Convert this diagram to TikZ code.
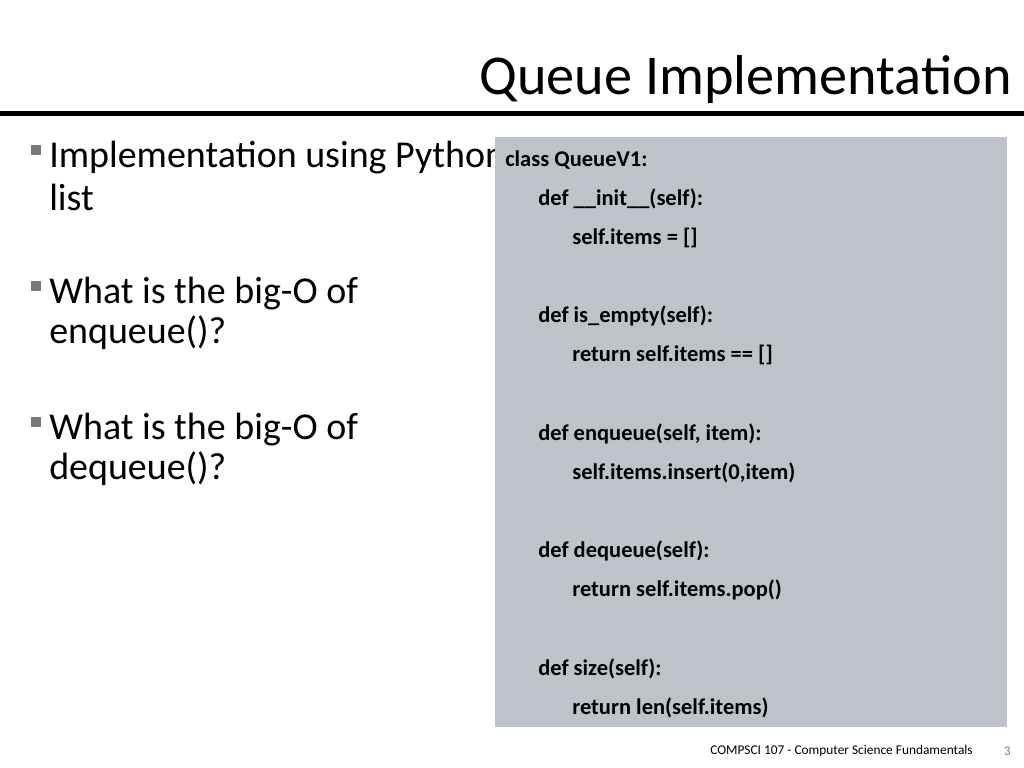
\documentclass[tikz,border=0pt]{standalone}
\usepackage{fontspec}
\setmainfont{Carlito}
\usetikzlibrary{positioning}
\definecolor{codebg}{RGB}{190,195,201}
\definecolor{bulletgray}{RGB}{120,120,120}
\tikzset{
  px/.style={x=0.025cm, y=-0.025cm},
  bullettext/.style={anchor=west, inner sep=0pt, font=\fontsize{27}{32}\selectfont},
  code/.style={anchor=west, inner sep=0pt, font=\fontsize{16}{19}\selectfont\bfseries},
  bulletmark/.style={fill=bulletgray, minimum size=7.5pt, inner sep=0pt}
}
\begin{document}
\begin{tikzpicture}[px]
  \useasboundingbox (0,0) rectangle (1024,768);
  % title and rule
  \node [anchor=base east, inner sep=0pt, font=\fontsize{40}{48}\selectfont] (title) at (1012,95) {Queue Implementation};
  \fill (0,111) rectangle (1024,116);
  % bullets
  \node [bulletmark] (b1) at (36,150) {};
  \node [bullettext] (t1) at (49,158) {Implementation using Python};
  \node [bullettext] (t1b) at (49,197) {list};
  \node [bulletmark] (b2) at (36,286) {};
  \node [bullettext] (t2) at (49,294) {What is the big-O of};
  \node [bullettext] (t2b) at (49,333) {enqueue()?};
  \node [bulletmark] (b3) at (36,422) {};
  \node [bullettext] (t3) at (49,430) {What is the big-O of};
  \node [bullettext] (t3b) at (49,469) {dequeue()?};
  % code box
  \fill [codebg] (495,137) rectangle (1007,727);
  \node [code] (c1) at (505,160) {class QueueV1:};
  \node [code] (c2) at (538,199) {def \_\_init\_\_(self):};
  \node [code] (c3) at (572,238) {self.items = []};
  \node [code] (c4) at (538,316) {def is\_empty(self):};
  \node [code] (c5) at (572,355) {return self.items == []};
  \node [code] (c6) at (538,434) {def enqueue(self, item):};
  \node [code] (c7) at (572,473) {self.items.insert(0,item)};
  \node [code] (c8) at (538,551) {def dequeue(self):};
  \node [code] (c9) at (572,590) {return self.items.pop()};
  \node [code] (c10) at (538,669) {def size(self):};
  \node [code] (c11) at (572,708) {return len(self.items)};
  % footer
  \node [anchor=east, inner sep=0pt, font=\fontsize{9.5}{11}\selectfont] (foot) at (973,751) {COMPSCI 107 - Computer Science Fundamentals};
  \node [anchor=east, inner sep=0pt, text=gray, font=\fontsize{9.5}{11}\selectfont] (page) at (1011,751) {3};
\end{tikzpicture}
\end{document}
